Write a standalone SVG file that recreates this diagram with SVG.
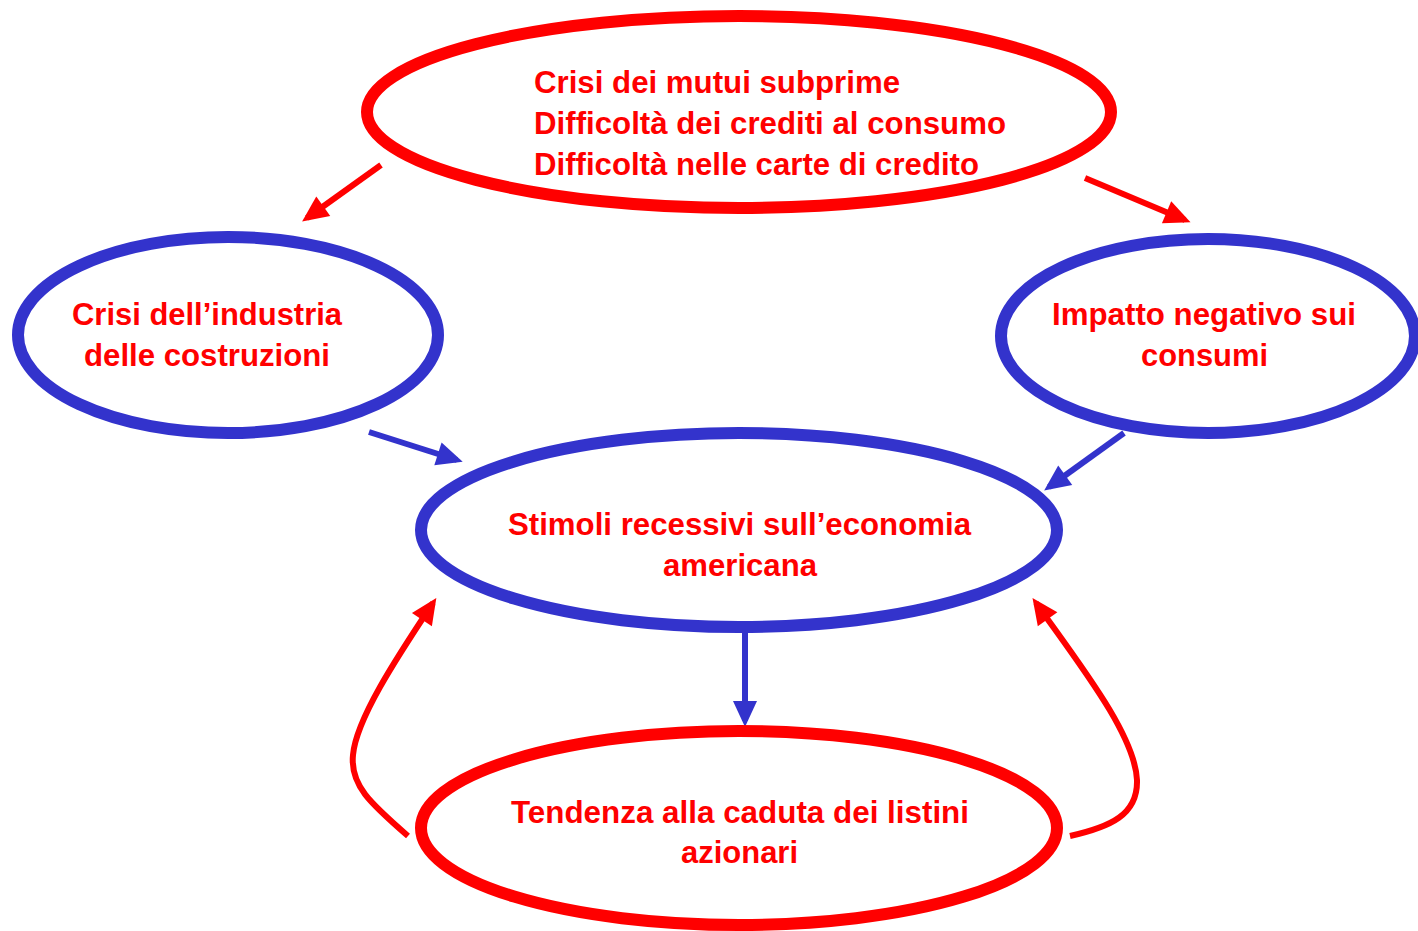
<svg xmlns="http://www.w3.org/2000/svg" width="1418" height="931" viewBox="0 0 1418 931">
<style>
.red{fill:none;stroke:#FF0000;stroke-width:12}
.blue{fill:none;stroke:#3333CC;stroke-width:12}
.t{font-family:"Liberation Sans",Arial,sans-serif;font-weight:bold;font-size:32px;fill:#FF0000}
.ar{fill:none;stroke:#FF0000;stroke-width:6}
.ab{fill:none;stroke:#3333CC;stroke-width:6}
</style>
<defs>
<marker id="mr" markerUnits="userSpaceOnUse" markerWidth="28" markerHeight="28" viewBox="0 0 28 28" refX="20" refY="14" orient="auto" overflow="visible"><path d="M0,2 L26,14 L0,26 Z" fill="#FF0000"/></marker>
<marker id="mb" markerUnits="userSpaceOnUse" markerWidth="28" markerHeight="28" viewBox="0 0 28 28" refX="20" refY="14" orient="auto" overflow="visible"><path d="M0,2 L26,14 L0,26 Z" fill="#3333CC"/></marker>
</defs>
<rect width="1418" height="931" fill="#FFFFFF"/>
<g id="connectors">
<line class="ar" x1="381" y1="165" x2="307" y2="218" marker-end="url(#mr)"/>
<line class="ar" x1="1085" y1="178" x2="1185" y2="220" marker-end="url(#mr)"/>
<line class="ab" x1="369" y1="432" x2="457" y2="460" marker-end="url(#mb)"/>
<line class="ab" x1="1124" y1="433" x2="1049" y2="487" marker-end="url(#mb)"/>
<line class="ab" x1="745" y1="632" x2="745" y2="721" marker-end="url(#mb)"/>
<path class="ar" d="M408,836 C370,803 350,785 353,755 C356,720 395,660 433,603" marker-end="url(#mr)"/>
<path class="ar" d="M1070,836 C1110,827 1138,815 1137,780 C1135,735 1080,665 1036,603" marker-end="url(#mr)"/>
</g>
<g id="top">
<ellipse class="red" cx="739" cy="112" rx="372" ry="96"/>
<text class="t" x="534" y="93" textLength="366" lengthAdjust="spacingAndGlyphs">Crisi dei mutui subprime</text>
<text class="t" x="534" y="134" textLength="472" lengthAdjust="spacingAndGlyphs">Difficoltà dei crediti al consumo</text>
<text class="t" x="534" y="175" textLength="445" lengthAdjust="spacingAndGlyphs">Difficoltà nelle carte di credito</text>
</g>
<g id="left">
<ellipse class="blue" cx="228" cy="335" rx="210" ry="98"/>
<text class="t" x="72" y="325" textLength="270" lengthAdjust="spacingAndGlyphs">Crisi dell’industria</text>
<text class="t" x="84" y="366" textLength="246" lengthAdjust="spacingAndGlyphs">delle costruzioni</text>
</g>
<g id="right">
<ellipse class="blue" cx="1208" cy="336" rx="207" ry="97"/>
<text class="t" x="1052" y="325" textLength="304" lengthAdjust="spacingAndGlyphs">Impatto negativo sui</text>
<text class="t" x="1141" y="366" textLength="127" lengthAdjust="spacingAndGlyphs">consumi</text>
</g>
<g id="middle">
<ellipse class="blue" cx="739" cy="530" rx="318" ry="97"/>
<text class="t" x="508" y="535" textLength="463" lengthAdjust="spacingAndGlyphs">Stimoli recessivi sull’economia</text>
<text class="t" x="663" y="576" textLength="154" lengthAdjust="spacingAndGlyphs">americana</text>
</g>
<g id="bottom">
<ellipse class="red" cx="739" cy="828" rx="318" ry="97"/>
<text class="t" x="511" y="823" textLength="458" lengthAdjust="spacingAndGlyphs">Tendenza alla caduta dei listini</text>
<text class="t" x="681" y="863" textLength="117" lengthAdjust="spacingAndGlyphs">azionari</text>
</g>
</svg>
